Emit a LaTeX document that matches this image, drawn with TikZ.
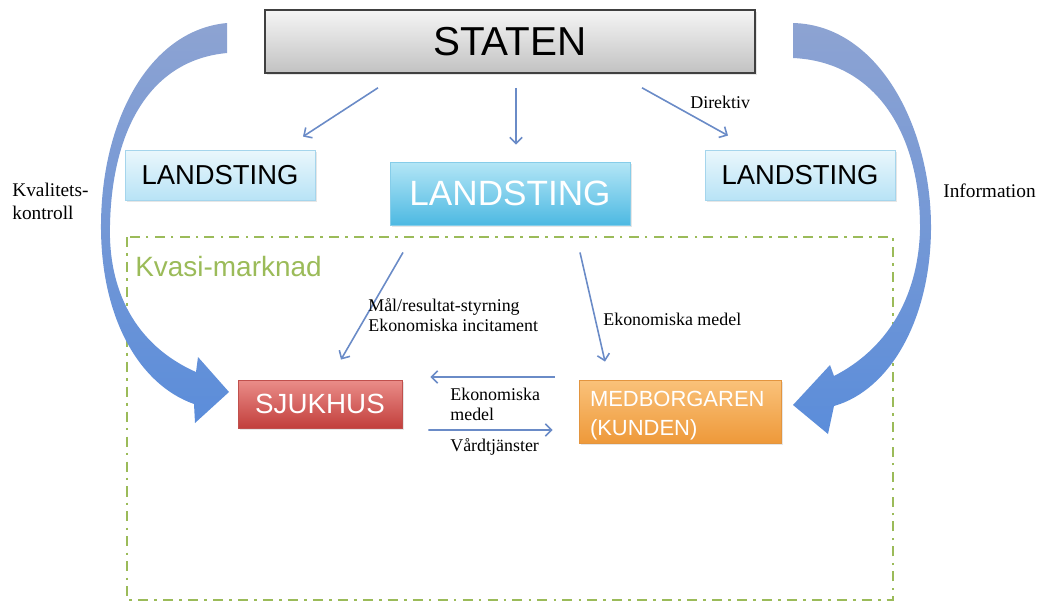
\documentclass[tikz,border=0pt]{standalone}
\usepackage{fontspec}
\setmainfont{Liberation Serif}
\newfontfamily\arialfnt{Liberation Sans}
\usetikzlibrary{arrows.meta,calc,shadows}
\definecolor{stateline}{HTML}{404040}\definecolor{statetop}{HTML}{F5F5F5}\definecolor{statebot}{HTML}{C2C2C2}
\definecolor{sideline}{HTML}{A5D5EC}\definecolor{sidetop}{HTML}{EAF7FC}\definecolor{sidebot}{HTML}{B8E3F6}
\definecolor{midline}{HTML}{86CDE9}\definecolor{midtop}{HTML}{B4E6F6}\definecolor{midbot}{HTML}{4DB9E2}
\definecolor{redline}{HTML}{C0504D}\definecolor{redtop}{HTML}{EA8D89}\definecolor{redbot}{HTML}{C23F3C}
\definecolor{orline}{HTML}{E3953F}\definecolor{ortop}{HTML}{FAC27A}\definecolor{orbot}{HTML}{EE993A}
\definecolor{arrowblue}{HTML}{6A8BC7}\definecolor{bigtop}{HTML}{8DA3D2}\definecolor{bigbot}{HTML}{5B8DDA}
\definecolor{kvasigreen}{HTML}{9BBB59}
\begin{document}
\begin{tikzpicture}[x=0.02cm, y=-0.02cm,
  boxbase/.style={rectangle, inner sep=0pt, drop shadow={opacity=0.2, shadow xshift=1pt, shadow yshift=-1pt}},
  statebox/.style={boxbase, draw=stateline, line width=0.9pt, top color=statetop, bottom color=statebot, minimum width=9.8cm, minimum height=1.26cm, font=\arialfnt\fontsize{23}{27}\selectfont},
  sidebox/.style={boxbase, draw=sideline, line width=0.5pt, top color=sidetop, bottom color=sidebot, minimum width=3.8cm, minimum height=1cm, font=\arialfnt\fontsize{15.6}{18}\selectfont},
  midbox/.style={boxbase, draw=midline, line width=0.5pt, top color=midtop, bottom color=midbot, text=white, minimum width=4.8cm, minimum height=1.26cm, font=\arialfnt\fontsize{20}{24}\selectfont},
  redbox/.style={boxbase, draw=redline, line width=0.5pt, top color=redtop, bottom color=redbot, text=white, minimum width=3.28cm, minimum height=0.96cm, font=\arialfnt\fontsize{15.8}{19}\selectfont},
  orangebox/.style={boxbase, draw=orline, line width=0.5pt, top color=ortop, bottom color=orbot, text=white, minimum width=4.04cm, minimum height=1.26cm, text width=3.6cm, align=left, font=\arialfnt\fontsize{12.5}{16.2}\selectfont},
  thinarr/.style={-{Straight Barb[length=3.5pt,width=7pt]}, draw=arrowblue, line width=0.9pt},
  bigarr/.style={top color=bigtop, bottom color=bigbot, draw=none},
  kvasi/.style={draw=kvasigreen, line width=1.1pt, dash pattern=on 5.7pt off 3.5pt on 1.5pt off 3.5pt},
  lbl/.style={inner sep=0pt, font=\fontsize{10.2}{11.5}\selectfont, align=left},
  sidelbl/.style={inner sep=0pt, font=\fontsize{11}{13}\selectfont, align=left}]
  \useasboundingbox (0,0) rectangle (1046,603);
  \draw[kvasi] (127,237) rectangle (893,600);
  \node[anchor=west, inner sep=0pt, text=kvasigreen, font=\arialfnt\fontsize{15.9}{19}\selectfont] (kvasi) at (135,267) {Kvasi-marknad};

  \path[bigarr] (227,23) .. controls (150,30) and (100,120) .. (101,230) .. controls (102,320) and (140,385) .. (194,404)
    -- (195,423) -- (229,392) -- (198,357) -- (196,372) .. controls (135,345) and (108,290) .. (110,225)
    .. controls (112,130) and (150,60) .. (227,53) -- cycle;
  \path[bigarr] (793,23) .. controls (880,25) and (932,130) .. (931,230) .. controls (930,320) and (890,390) .. (834,406)
    -- (828,434) -- (793,405) -- (830,365) -- (834,376) .. controls (885,350) and (918,300) .. (920,230)
    .. controls (921,140) and (880,62) .. (793,58) -- cycle;

  \node[statebox] (staten) at (510,41.5) {STATEN};
  \node[sidebox] (lt1) at (220,175) {LANDSTING};
  \node[midbox] (lt2) at (510,193.5) {LANDSTING};
  \node[sidebox] (lt3) at (800,175) {LANDSTING};
  \node[redbox] (sjukhus) at (320,404) {SJUKHUS};
  \node[orangebox] (medborg) at (680,411.5) {\rule{0pt}{13.5pt}MEDBORGAREN\\(KUNDEN)};

  \draw[thinarr] ($(staten.south)+(-132,14)$) -- ($(lt1.north)+(83,-13)$);
  \draw[thinarr] ($(staten.south)+(6,14)$) -- ($(lt2.north)+(6,-17)$);
  \draw[thinarr] ($(staten.south)+(132,14)$) -- ($(lt3.north)+(-72,-14)$);
  \draw[thinarr] ($(lt2.south)+(-107,27)$) -- ($(sjukhus.north)+(21,-20)$);
  \draw[thinarr] ($(lt2.south)+(70,27)$) -- ($(medborg.north)+(-75,-18)$);
  \draw[thinarr] ($(medborg.west)+(-24,-34.5)$) -- ($(sjukhus.east)+(28,-27)$);
  \draw[thinarr] ($(sjukhus.east)+(26,26)$) -- ($(medborg.west)+(-26,18.5)$);

  \node[lbl, anchor=west] (ldir) at (690,102) {Direktiv};
  \node[lbl, anchor=west] (lmal) at (368,315) {Mål/resultat-styrning\\Ekonomiska incitament};
  \node[lbl, anchor=west] (lmed) at (603,319) {Ekonomiska medel};
  \node[lbl, anchor=west] (lek) at (450,404) {Ekonomiska\\medel};
  \node[lbl, anchor=west] (lvard) at (450,447) {Vårdtjänster};
  \node[sidelbl, anchor=west] (lkval) at (12,201) {Kvalitets-\\kontroll};
  \node[sidelbl, anchor=west] (linfo) at (943,191) {Information};
\end{tikzpicture}
\end{document}
